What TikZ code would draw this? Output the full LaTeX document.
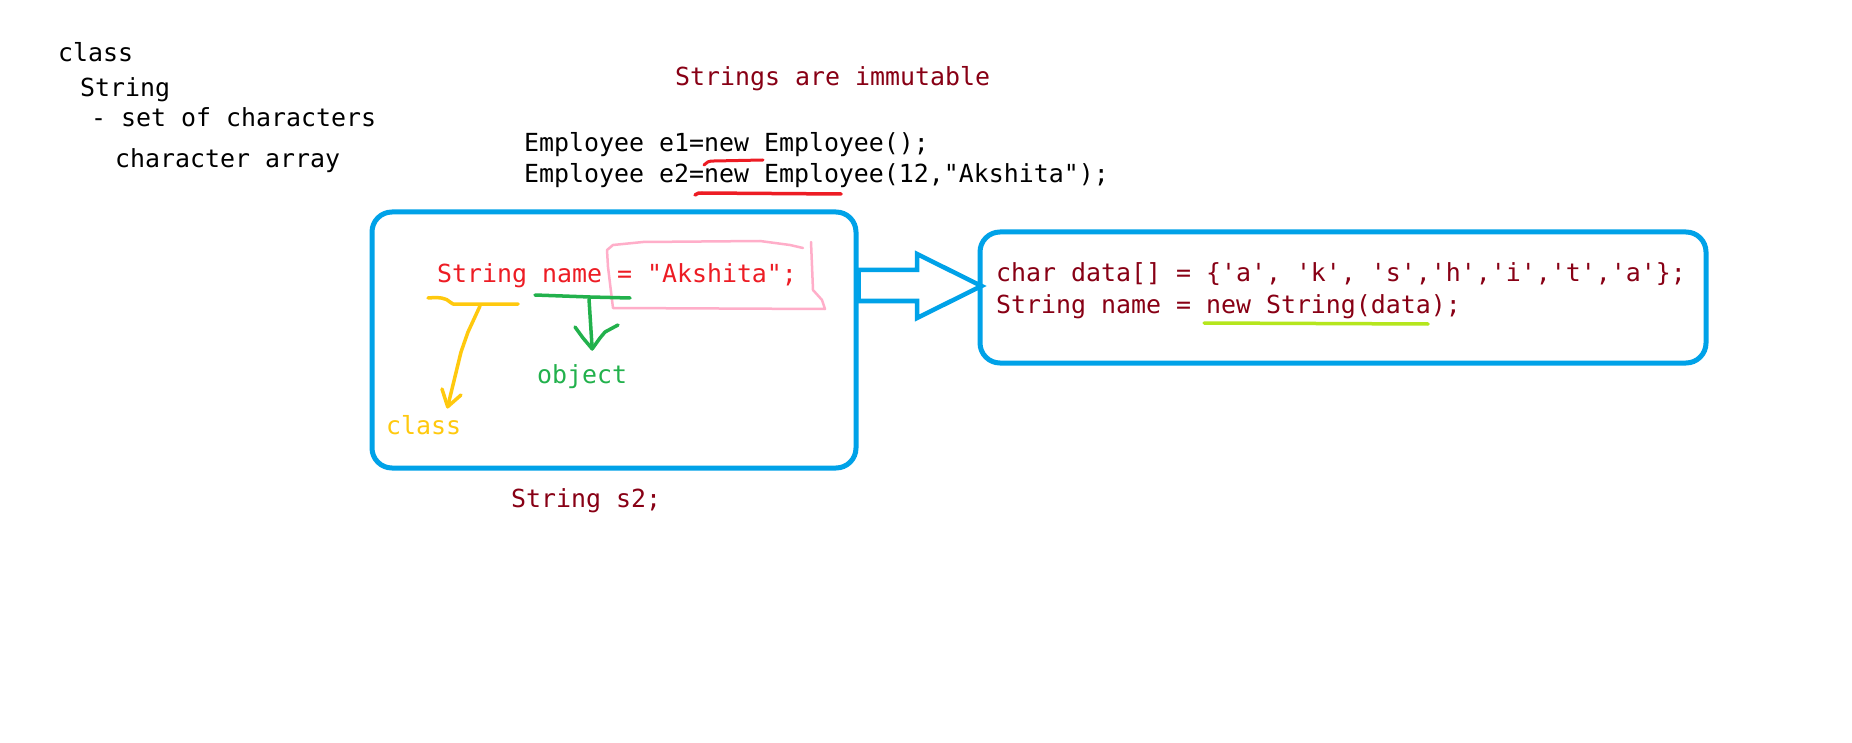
\documentclass[tikz,border=0pt]{standalone}
\usepackage{fontspec}
\setmonofont{DejaVu Sans Mono}
\usetikzlibrary{calc}
\definecolor{pblue}{HTML}{00A2E8}
\definecolor{pdark}{HTML}{880015}
\definecolor{pred}{HTML}{ED1C24}
\definecolor{pyellow}{HTML}{FFC90E}
\definecolor{pgreen}{HTML}{22B14C}
\definecolor{ppink}{HTML}{FFAEC9}
\definecolor{plime}{HTML}{B5E61D}
\begin{document}
\begin{tikzpicture}[x=1pt,y=-1pt,
  txt/.style={anchor=base west, inner sep=0pt, font=\ttfamily\fontsize{24.9}{30}\selectfont},
  box/.style={draw=pblue, line width=5pt, rounded corners=20pt, inner sep=0pt},
  pen/.style={line width=3.5pt, line cap=round, line join=round},
  blockarrow/.style={draw=pblue, line width=4.5pt, line join=miter}]
\useasboundingbox[fill=white] (0,0) rectangle (1852,743);

% left notes
\node[txt] (n1) at (58,62) {class};
\node[txt] (n2) at (80,97) {String};
\node[txt] (n3) at (91,127) {- set of characters};
\node[txt] (n4) at (115,168) {character array};

% top
\node[txt, text=pdark] (title) at (675,86) {Strings are immutable};
\node[txt] (e1) at (524,152) {Employee e1=new Employee();};
\node[txt] (e2) at (524,183) {Employee e2=new Employee(12,"Akshita");};
\draw[pen, draw=pred, line width=3pt] (704,165) .. controls (706,162) and (709,161) .. (714,161) -- (763,160);
\draw[pen, draw=pred] (695,195) .. controls (697,193) and (699,193) .. (702,193) -- (841,194);

% boxes
\node[box, minimum width=484pt, minimum height=256pt] (lb) at (614,340) {};
\node[box, minimum width=726pt, minimum height=131pt] (rb) at (1343,297.5) {};

% block arrow
\draw[blockarrow] (lb.east |- 0,270) -- (917,270) -- (917,254) -- ($(rb.west |- 0,286)+(4,0)$)
  -- (917,318) -- (917,301) -- (lb.east |- 0,301) -- cycle;

% left box content
\node[txt, text=pred] (decl) at (437,283) {String name = "Akshita";};
\draw[draw=ppink, line width=2.5pt, line cap=round, line join=round]
  (803,248) -- (790,245) -- (760,241) -- (643,242) -- (613,245) -- (607,250)
  -- (608,267) -- (613,308) -- (825,309) -- (822,300) -- (813,290) -- (811,242);

\node[txt, text=pyellow] (cls) at (386,434) {class};
\node[txt, text=pgreen] (obj) at (537,383) {object};
\node[txt, text=pdark] (s2) at (511,507) {String s2;};

% yellow bar and arrow
\draw[pen, draw=pyellow] (428,298) .. controls (440,297) and (446,298) .. (450,302) -- (453,304) -- (518,304);
\coordinate (ytop) at (480,306);
\coordinate (ytip) at ($(cls.north)+(24,-8)$);
\draw[pen, draw=pyellow] (ytop) -- (468,332) -- (461,352) -- (ytip);
\draw[pen, draw=pyellow] (442,389) -- (ytip) -- (461,395);

% green bar and arrow
\draw[pen, draw=pgreen] (535,295) -- (590,297) -- (630,298);
\coordinate (gtop) at (589,299);
\coordinate (gtip) at ($(obj.north)+(10,-15)$);
\draw[pen, draw=pgreen] (gtop) -- (gtip);
\draw[pen, draw=pgreen] (575,327) -- (583,338) -- (gtip) -- (600,338) -- (605,332) -- (618,325);

% right box content
\node[txt, text=pdark] (r1) at (996,282) {char data[] = \{'a', 'k', 's','h','i','t','a'\};};
\node[txt, text=pdark] (r2) at (996,313) {String name = new String(data);};
\draw[pen, draw=plime] (1204,323) -- (1428,324);
\end{tikzpicture}
\end{document}
